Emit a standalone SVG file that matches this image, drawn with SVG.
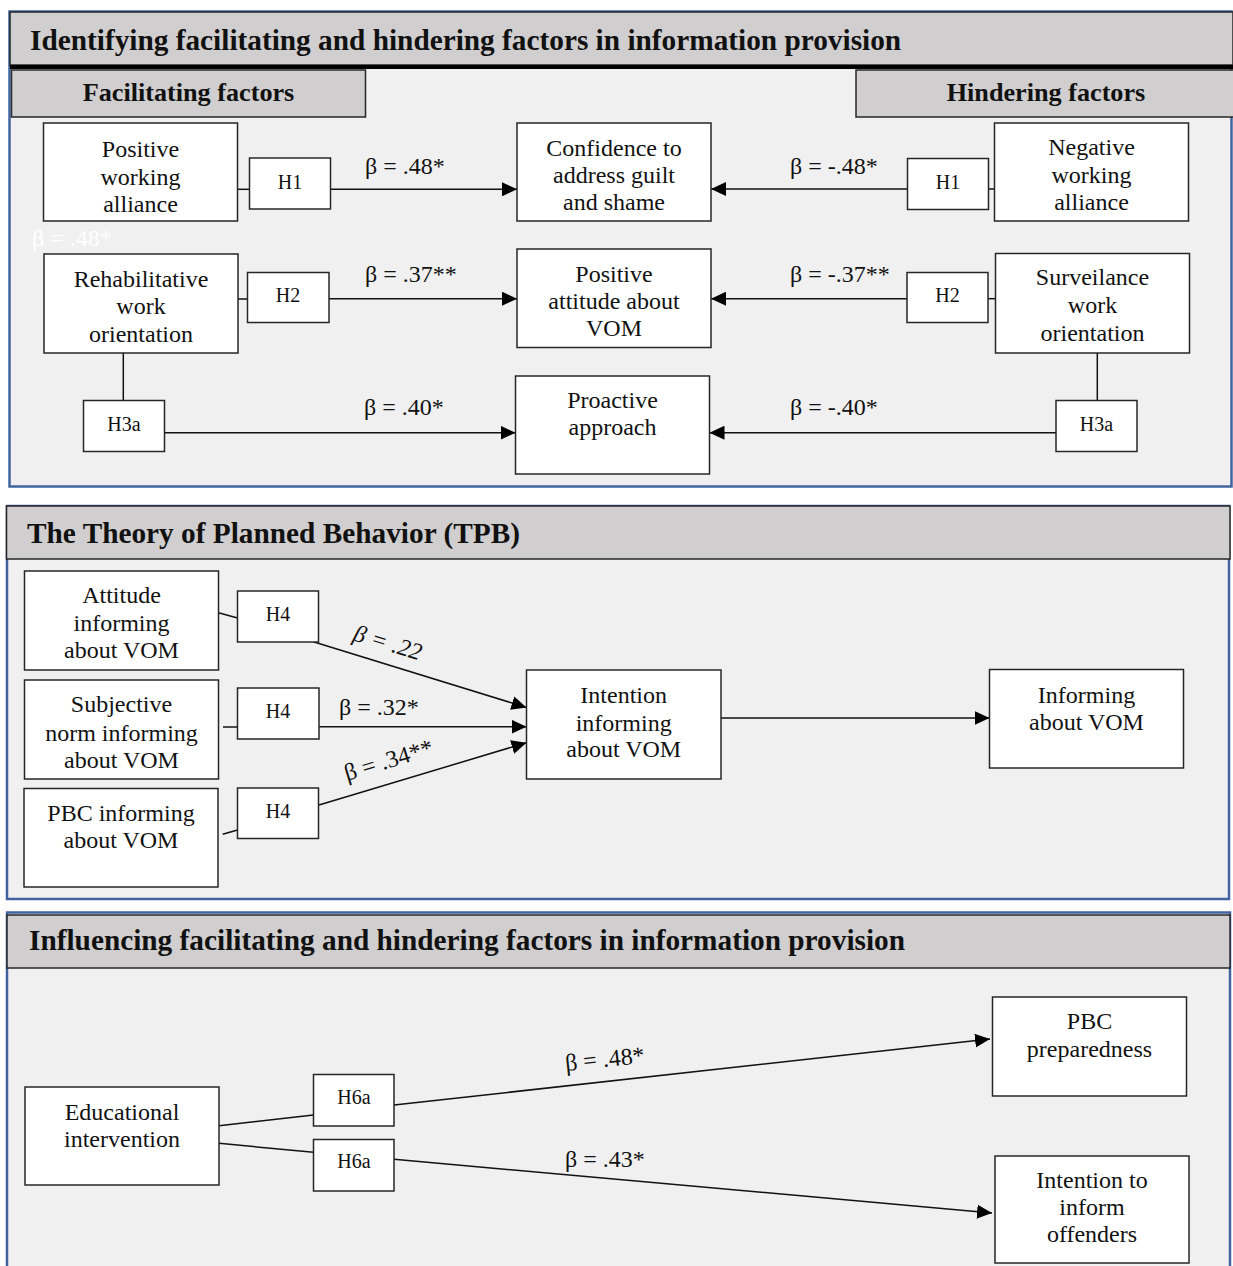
<svg xmlns="http://www.w3.org/2000/svg" width="1233" height="1266" viewBox="0 0 1233 1266">
<defs>
<style>
.panel{fill:#f0f0f0;stroke:#41649e;stroke-width:2.5}
.hdr{fill:#d0cece;stroke:#262626;stroke-width:1.5}
.box{fill:#ffffff;stroke:#262626;stroke-width:1.5}
text{font-family:"Liberation Serif","Times New Roman",serif;font-size:24px;fill:#111111;text-anchor:middle}
.hl{font-size:20px}
.title{font-weight:bold;font-size:29.3px;text-anchor:start}
.sub{font-weight:bold;font-size:26.2px}
.beta{text-anchor:start}
.ghost{fill:#ffffff}
.c{stroke:#111111;stroke-width:1.5;fill:none}
.a{marker-end:url(#arr)}
</style>
<marker id="arr" viewBox="0 0 15 14" refX="15" refY="7" markerWidth="15" markerHeight="14" markerUnits="userSpaceOnUse" orient="auto">
<path d="M0,0 L15,7 L0,14 z" fill="#000000"/>
</marker>
</defs>
<rect width="1233" height="1266" fill="#ffffff"/>

<!-- Panel 1 -->
<g id="panel1">
<rect class="panel" x="9.5" y="11.5" width="1222" height="475"/>
<rect class="hdr" x="10" y="12" width="1223" height="53"/>
<rect x="10" y="65" width="1223" height="4" fill="#000000"/>
<text class="title" x="30" y="50">Identifying facilitating and hindering factors in information provision</text>
<rect class="hdr" x="11.5" y="70" width="354" height="47"/>
<text class="sub" x="188.5" y="101">Facilitating factors</text>
<rect class="hdr" x="856" y="70" width="378" height="47"/>
<text class="sub" x="1046" y="101">Hindering factors</text>
<text class="beta ghost" x="32" y="246">β = .48*</text>
</g>

<!-- Panel 2 -->
<g id="panel2">
<rect class="panel" x="7" y="506" width="1222" height="393"/>
<rect class="hdr" x="6.5" y="506" width="1223.5" height="53"/>
<text class="title" x="27" y="543">The Theory of Planned Behavior (TPB)</text>
</g>

<!-- Panel 3 -->
<g id="panel3">
<rect class="panel" x="7" y="912.5" width="1223" height="360"/>
<rect class="hdr" x="7" y="915" width="1223" height="53"/>
<text class="title" x="29" y="950">Influencing facilitating and hindering factors in information provision</text>
</g>

<!-- Connectors -->
<g id="connectors">
<line class="c" x1="237.7" y1="189.3" x2="249.5" y2="189.3"/>
<line class="c a" x1="330.5" y1="189.3" x2="517" y2="189.3"/>
<line class="c a" x1="907.5" y1="189" x2="711" y2="189"/>
<line class="c" x1="988.5" y1="189" x2="994.5" y2="189"/>
<line class="c" x1="238" y1="299" x2="247.5" y2="299"/>
<line class="c a" x1="329" y1="298.7" x2="517" y2="298.7"/>
<line class="c a" x1="907" y1="298.7" x2="711" y2="298.7"/>
<line class="c" x1="988" y1="298.7" x2="995.5" y2="298.7"/>
<line class="c" x1="123.3" y1="353" x2="123.3" y2="400.5"/>
<line class="c a" x1="164.5" y1="432.7" x2="515.5" y2="432.7"/>
<line class="c a" x1="1056" y1="432.7" x2="709.5" y2="432.7"/>
<line class="c" x1="1097.3" y1="353" x2="1097.3" y2="400.5"/>

<line class="c" x1="218.5" y1="612.7" x2="237.5" y2="618"/>
<line class="c" x1="223" y1="727" x2="237.5" y2="727"/>
<line class="c" x1="222.7" y1="834.3" x2="237.5" y2="830"/>
<line class="c a" x1="313.3" y1="641.7" x2="526.5" y2="707.5"/>
<line class="c a" x1="319" y1="726.7" x2="526.5" y2="726.7"/>
<line class="c a" x1="319" y1="805" x2="526.5" y2="742.7"/>
<line class="c a" x1="721" y1="718" x2="989.5" y2="718"/>

<line class="c" x1="219" y1="1125.7" x2="313.5" y2="1115"/>
<line class="c" x1="219" y1="1143.3" x2="313.5" y2="1152.3"/>
<line class="c a" x1="394" y1="1105" x2="990" y2="1039"/>
<line class="c a" x1="394" y1="1159.3" x2="992" y2="1213"/>

<text class="beta" x="365" y="174">β = .48*</text>
<text class="beta" x="790" y="174">β = -.48*</text>
<text class="beta" x="365" y="282">β = .37**</text>
<text class="beta" x="790" y="282">β = -.37**</text>
<text class="beta" x="364" y="415">β = .40*</text>
<text class="beta" x="790" y="415">β = -.40*</text>
<text class="beta" font-style="italic" transform="translate(352,640) rotate(17)">β = .22</text>
<text class="beta" x="339" y="715">β = .32*</text>
<text class="beta" transform="translate(347,781) rotate(-17)">β = .34**</text>
<text class="beta" transform="translate(566,1071) rotate(-6)">β = .48*</text>
<text class="beta" x="565" y="1167">β = .43*</text>
</g>

<!-- Panel 1 nodes -->
<g id="n_pwa"><rect class="box" x="43.5" y="123" width="194" height="98"/>
<text x="140.5" y="157">Positive</text><text x="140.5" y="184.5">working</text><text x="140.5" y="212">alliance</text></g>
<g id="h1_left"><rect class="box" x="249.5" y="158" width="81" height="51"/><text class="hl" x="290" y="189">H1</text></g>
<g id="n_conf"><rect class="box" x="517" y="123" width="194" height="98"/>
<text x="614" y="156">Confidence to</text><text x="614" y="183">address guilt</text><text x="614" y="210">and shame</text></g>
<g id="h1_right"><rect class="box" x="907.5" y="158.5" width="81" height="51"/><text class="hl" x="948" y="189">H1</text></g>
<g id="n_nwa"><rect class="box" x="994.5" y="123" width="194" height="98"/>
<text x="1091.5" y="155">Negative</text><text x="1091.5" y="183">working</text><text x="1091.5" y="210">alliance</text></g>

<g id="n_rehab"><rect class="box" x="44" y="254" width="194" height="99"/>
<text x="141" y="287">Rehabilitative</text><text x="141" y="314">work</text><text x="141" y="341.5">orientation</text></g>
<g id="h2_left"><rect class="box" x="247.5" y="272.5" width="81.5" height="50"/><text class="hl" x="288" y="302">H2</text></g>
<g id="n_pav"><rect class="box" x="517" y="249" width="194" height="98.5"/>
<text x="614" y="282">Positive</text><text x="614" y="309">attitude about</text><text x="614" y="336">VOM</text></g>
<g id="h2_right"><rect class="box" x="907" y="272.5" width="81" height="50"/><text class="hl" x="947.5" y="302">H2</text></g>
<g id="n_surv"><rect class="box" x="995.5" y="253.5" width="194" height="99.5"/>
<text x="1092.5" y="285">Surveilance</text><text x="1092.5" y="313">work</text><text x="1092.5" y="340.5">orientation</text></g>

<g id="h3a_left"><rect class="box" x="83.5" y="400.5" width="81" height="51"/><text class="hl" x="124" y="431">H3a</text></g>
<g id="n_pro"><rect class="box" x="515.5" y="376" width="194" height="98"/>
<text x="612.5" y="408">Proactive</text><text x="612.5" y="435">approach</text></g>
<g id="h3a_right"><rect class="box" x="1056" y="400.5" width="81" height="51"/><text class="hl" x="1096.5" y="431">H3a</text></g>

<!-- Panel 2 nodes -->
<g id="n_att"><rect class="box" x="24.5" y="571" width="194" height="99"/>
<text x="121.5" y="603">Attitude</text><text x="121.5" y="631">informing</text><text x="121.5" y="658">about VOM</text></g>
<g id="n_sub"><rect class="box" x="24.5" y="680" width="194" height="99"/>
<text x="121.5" y="712">Subjective</text><text x="121.5" y="740.5">norm informing</text><text x="121.5" y="767.5">about VOM</text></g>
<g id="n_pbc"><rect class="box" x="24" y="788.5" width="194" height="98.5"/>
<text x="121" y="820.5">PBC informing</text><text x="121" y="848">about VOM</text></g>
<g id="h4_a"><rect class="box" x="237.5" y="591" width="81" height="51"/><text class="hl" x="278" y="620.5">H4</text></g>
<g id="h4_b"><rect class="box" x="237.5" y="688" width="81.5" height="51"/><text class="hl" x="278" y="718">H4</text></g>
<g id="h4_c"><rect class="box" x="237.5" y="788" width="81" height="50.5"/><text class="hl" x="278" y="818">H4</text></g>
<g id="n_int"><rect class="box" x="526.5" y="670" width="194.5" height="109"/>
<text x="623.7" y="702.7">Intention</text><text x="623.7" y="730.5">informing</text><text x="623.7" y="757.3">about VOM</text></g>
<g id="n_inf"><rect class="box" x="989.5" y="669.5" width="194" height="98.5"/>
<text x="1086.5" y="703">Informing</text><text x="1086.5" y="729.5">about VOM</text></g>

<!-- Panel 3 nodes -->
<g id="n_edu"><rect class="box" x="25" y="1087" width="194" height="98"/>
<text x="122" y="1120">Educational</text><text x="122" y="1147.3">intervention</text></g>
<g id="h6a_top"><rect class="box" x="313.5" y="1074.5" width="80.5" height="51.5"/><text class="hl" x="354" y="1104">H6a</text></g>
<g id="h6a_bot"><rect class="box" x="313.5" y="1139.5" width="80.5" height="51.5"/><text class="hl" x="354" y="1168">H6a</text></g>
<g id="n_pbcp"><rect class="box" x="992.5" y="997" width="194" height="99"/>
<text x="1089.5" y="1029.3">PBC</text><text x="1089.5" y="1056.7">preparedness</text></g>
<g id="n_iti"><rect class="box" x="995" y="1156" width="194" height="107"/>
<text x="1092" y="1188.3">Intention to</text><text x="1092" y="1215">inform</text><text x="1092" y="1242.3">offenders</text></g>
</svg>
